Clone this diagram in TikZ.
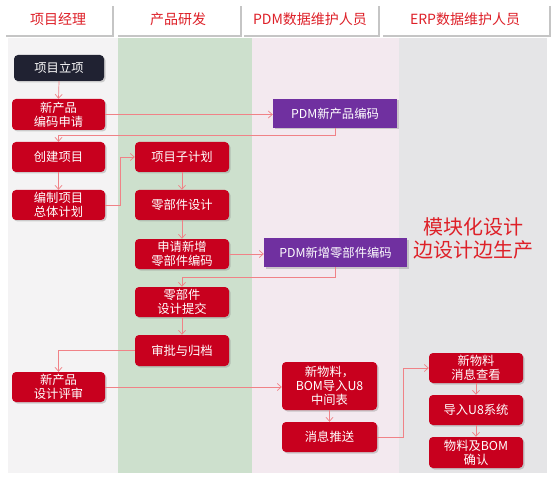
\documentclass[tikz,border=0pt]{standalone}
\usepackage{fontspec}
\setmainfont{Noto Sans CJK SC}
\usetikzlibrary{arrows.meta,shadows,calc}
\definecolor{boxred}{RGB}{200,0,30}
\definecolor{boxpurple}{RGB}{112,48,160}
\definecolor{boxdark}{RGB}{32,34,50}
\definecolor{linkred}{RGB}{240,130,135}
\definecolor{headred}{RGB}{222,32,40}
\definecolor{laneA}{RGB}{244,243,244}
\definecolor{laneB}{RGB}{205,224,205}
\definecolor{laneC}{RGB}{243,233,239}
\definecolor{laneD}{RGB}{229,229,231}
\tikzset{
  flowbox/.style={rectangle, rounded corners=4pt, fill=boxred, text=white, align=center,
    inner sep=0pt, font=\fontsize{12.3}{14}\selectfont,
    drop shadow={shadow xshift=1.5pt, shadow yshift=-1.5pt, opacity=0.35}},
  pdmbox/.style={flowbox, rounded corners=0pt, fill=boxpurple},
  headbox/.style={rectangle, fill=white, inner sep=0pt, text=headred,
    font=\fontsize{14}{16}\selectfont,
    drop shadow={shadow xshift=1.8pt, shadow yshift=-1.8pt, opacity=0.45}},
  link/.style={draw=linkred, line width=0.7pt, -{Straight Barb[length=4pt,width=7pt]}},
}
\begin{document}
\begin{tikzpicture}[x=1pt,y=-1pt]
\useasboundingbox (0,0) rectangle (554,481);
\fill[white] (0,0) rectangle (554,481);
% lanes
\fill[laneA] (8,38) rectangle (118,473);
\fill[laneB] (118,38) rectangle (252,473);
\fill[laneC] (252,38) rectangle (399,473);
\fill[laneD] (399,38) rectangle (547,473);
% headers
\node[headbox, minimum width=108, minimum height=31] (h1) at (58,19.5) {项目经理};
\node[headbox, minimum width=124, minimum height=31] (h2) at (178,19.5) {产品研发};
\node[headbox, minimum width=136, minimum height=31] (h3) at (310,19.5) {PDM数据维护人员};
\node[headbox, minimum width=168, minimum height=31] (h4) at (465,19.5) {ERP数据维护人员};
% nodes
\node[flowbox, fill=boxdark, minimum width=90, minimum height=26] (lixiang) at (59,68) {项目立项};
\node[flowbox, minimum width=93, minimum height=31] (bianma) at (58.5,114.5) {新产品\\编码申请};
\node[flowbox, minimum width=93, minimum height=30] (chuangjian) at (58.5,157) {创建项目};
\node[flowbox, minimum width=93, minimum height=30] (zongti) at (58.5,205) {编制项目\\总体计划};
\node[flowbox, minimum width=94, minimum height=30] (zijihua) at (182,157) {项目子计划};
\node[flowbox, minimum width=94, minimum height=30] (lingsheji) at (182,205) {零部件设计};
\node[flowbox, minimum width=94, minimum height=30] (shenqing) at (182,254) {申请新增\\零部件编码};
\node[flowbox, minimum width=94, minimum height=30] (tijiao) at (182,302) {零部件\\设计提交};
\node[flowbox, minimum width=94, minimum height=31] (shenpi) at (182,350.5) {审批与归档};
\node[flowbox, minimum width=93, minimum height=30] (pingshen) at (58.5,387) {新产品\\设计评审};
\node[pdmbox, minimum width=124, minimum height=29] (pdma) at (335,113.5) {PDM新产品编码};
\node[pdmbox, minimum width=143, minimum height=29] (pdmb) at (335.5,252.5) {PDM新增零部件编码};
\node[flowbox, minimum width=95, minimum height=48] (zhongjian) at (329.5,386) {新物料，\\BOM导入U8\\中间表};
\node[flowbox, minimum width=95, minimum height=30] (tuisong) at (329.5,437) {消息推送};
\node[flowbox, minimum width=94, minimum height=30] (chakan) at (476,368) {新物料\\消息查看};
\node[flowbox, minimum width=94, minimum height=30] (daoru) at (476,410) {导入U8系统};
\node[flowbox, minimum width=94, minimum height=31] (queren) at (476,452.5) {物料及BOM\\确认};
% slogan
\node[text=headred, font=\fontsize{20}{23}\selectfont, align=center] (slogan) at (473,238.5) {模块化设计\\边设计边生产};
% connectors
\draw[link] (lixiang.south) -- (bianma.north);
\draw[link] (bianma.east) -- (bianma.east -| pdma.west);
\draw[link] (pdma.south) -- ++(0,7) -| (chuangjian.north);
\draw[link] (chuangjian.south) -- (zongti.north);
\draw[link] (zongti.east) -- ++(15,0) |- (zijihua.west);
\draw[link] (zijihua.south) -- (lingsheji.north);
\draw[link] (lingsheji.south) -- (shenqing.north);
\draw[link] (shenqing.east) -- (shenqing.east -| pdmb.west);
\draw[link] (pdmb.south) -- ++(0,10) -| (tijiao.north);
\draw[link] (tijiao.south) -- (shenpi.north);
\draw[link] (shenpi.west) -| (pingshen.north);
\draw[link] (pingshen.east) -- (pingshen.east -| zhongjian.west);
\draw[link] (zhongjian.south) -- (tuisong.north);
\draw[link] (tuisong.east) -- ++(26,0) |- (chakan.west);
\draw[link] (chakan.south) -- (daoru.north);
\draw[link] (daoru.south) -- (queren.north);
\end{tikzpicture}
\end{document}
